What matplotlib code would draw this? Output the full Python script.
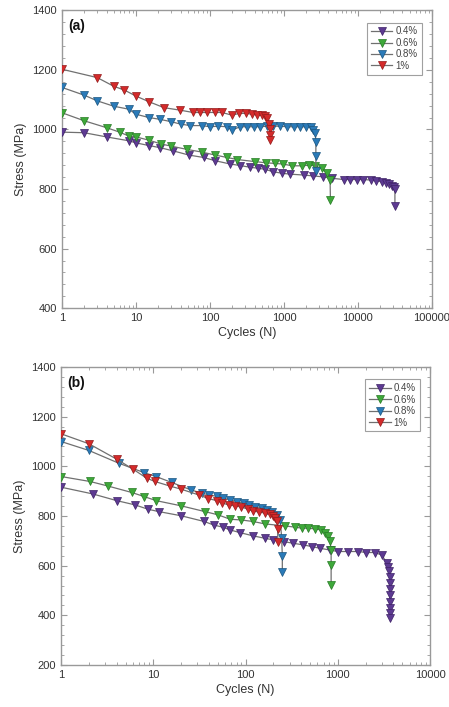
import matplotlib
matplotlib.use('Agg')
import matplotlib.pyplot as plt
from matplotlib.ticker import FixedLocator, FuncFormatter, LogLocator, MultipleLocator

plt.rcParams['font.family'] = ['Liberation Sans', 'DejaVu Sans']

# ---- panel (a) data ----
a_n_04 = [1, 2, 4, 8, 10, 15, 21, 32, 52, 82, 118, 188, 256, 350, 445, 560, 720, 940,
          1210, 1850, 2500, 3370, 4500, 6400, 7800, 9800, 11800, 15000, 17800, 21000,
          24000, 26500, 28500, 30700, 31600, 31600]
a_s_04 = [991, 989, 975, 962, 955, 946, 939, 928, 914, 906, 895, 884, 879, 873, 870, 866,
          858, 853, 850, 847, 844, 841, 836, 832, 832, 832, 832, 830, 828, 825, 821, 816,
          810, 806, 799, 743]
a_n_06 = [1, 2, 4, 6, 8, 10, 15, 22, 30, 49, 78, 118, 170, 235, 410, 575, 760, 960, 1300,
          1750, 2150, 2650, 3250, 3800, 4200, 4250]
a_s_06 = [1056, 1029, 1006, 991, 978, 975, 964, 951, 944, 933, 924, 914, 906, 899, 892,
          888, 886, 884, 878, 878, 880, 878, 869, 855, 832, 763]
a_n_08 = [1, 2, 3, 5, 8, 10, 15, 21, 30, 40, 54, 78, 100, 130, 170, 198, 256, 315, 390,
          480, 590, 720, 890, 1100, 1350, 1660, 2000, 2340, 2500, 2650, 2700, 2700, 2700]
a_s_08 = [1141, 1115, 1096, 1078, 1068, 1051, 1040, 1034, 1026, 1018, 1013, 1013, 1009,
          1011, 1009, 998, 1009, 1009, 1009, 1009, 1011, 1011, 1011, 1009, 1009, 1009,
          1009, 1007, 998, 987, 959, 911, 861]
a_n_1 = [1, 3, 5, 7, 10, 15, 24, 39, 59, 74, 91, 118, 145, 198, 250, 310, 370, 430, 505,
         560, 590, 620, 640, 640, 640]
a_s_1 = [1202, 1174, 1145, 1132, 1112, 1093, 1073, 1065, 1057, 1057, 1057, 1057, 1057,
         1048, 1054, 1054, 1051, 1049, 1047, 1044, 1040, 1018, 1002, 981, 964]

# ---- panel (b) data ----
b_n_04 = [1, 2.2, 4, 6.3, 8.8, 11.4, 20, 35.5, 45, 56.5, 68, 87, 121, 163, 200, 258, 330,
          418, 522, 640, 820, 1000, 1300, 1660, 2040, 2500, 3000, 3400, 3500, 3600, 3650,
          3650, 3650, 3650, 3650, 3650, 3650, 3650]
b_s_04 = [916, 889, 862, 845, 827, 818, 801, 778, 764, 755, 744, 733, 720, 710, 704, 697,
          690, 684, 677, 670, 663, 657, 657, 657, 653, 653, 643, 609, 596, 578, 556, 529,
          505, 482, 455, 428, 410, 388]
b_n_06 = [1, 2.06, 3.2, 5.8, 8, 10.7, 20, 36, 50, 68, 90, 120, 163, 268, 345, 405, 475,
          565, 660, 725, 790, 820, 845, 845, 845]
b_s_06 = [959, 939, 921, 895, 878, 862, 841, 818, 805, 787, 784, 778, 768, 760, 755, 751,
          751, 748, 744, 733, 721, 701, 663, 603, 522]
b_n_08 = [1, 2, 4.2, 7.9, 10.7, 15.8, 25.6, 33.5, 40.4, 48.7, 57.5, 68, 80, 95, 110, 126,
          149, 170, 192, 218, 237, 246, 250, 250]
b_s_08 = [1100, 1064, 1013, 975, 959, 935, 905, 892, 885, 879, 872, 865, 858, 852, 844,
          838, 833, 825, 818, 805, 784, 713, 637, 574]
b_n_1 = [1, 2, 4, 6, 8.5, 10.4, 15, 20, 31.6, 39.6, 48.7, 55, 65.6, 77.7, 90, 107, 121,
         141, 163, 184, 200, 209, 219, 222, 224]
b_s_1 = [1131, 1091, 1029, 989, 952, 939, 921, 908, 884, 870, 862, 854, 844, 841, 836,
         827, 819, 817, 811, 809, 800, 791, 778, 748, 697]

labels = ['0.4%', '0.6%', '0.8%', '1%']
colors = ['#5d3a92', '#3ea83a', '#2a7ab8', '#d42a2a']
edges = ['#3e2266', '#267a24', '#1b557f', '#921a1a']


def draw_panel(ax, series, tag, xmax, ymin, yticks):
    for (n, s), lab, col, ec in zip(series, labels, colors, edges):
        ax.plot(n, s, color='#707070', lw=0.9, marker='v', ms=5.6,
                mfc=col, mec=ec, mew=0.5, label=lab, zorder=3)
    ax.set_xscale('log')
    ax.set_xlim(1, xmax)
    ax.set_ylim(ymin, 1400)
    major = [10 ** k for k in range(0, 7) if 10 ** k <= xmax]
    ax.xaxis.set_major_locator(FixedLocator(major))
    ax.xaxis.set_major_formatter(FuncFormatter(lambda v, p: f'{int(round(v))}'))
    ax.xaxis.set_minor_locator(LogLocator(base=10, subs=range(2, 10)))
    ax.yaxis.set_major_locator(FixedLocator(yticks))
    ax.yaxis.set_minor_locator(MultipleLocator(40))
    ax.tick_params(which='both', direction='in', top=True, right=True, colors='#999999',
                   labelcolor='#333333', labelsize=8)
    ax.tick_params(which='major', length=4, width=0.8)
    ax.tick_params(which='minor', length=2, width=0.6)
    for sp in ax.spines.values():
        sp.set_color('#999999')
        sp.set_linewidth(1.0)
    ax.set_xlabel('Cycles (N)', fontsize=9, color='#333333', labelpad=3)
    ax.set_ylabel('Stress (MPa)', fontsize=9, color='#333333', labelpad=4)
    ax.text(0.016, 0.97, tag, transform=ax.transAxes, fontsize=10, fontweight='bold',
            va='top', ha='left', color='#111111')
    leg = ax.legend(loc='upper right', fontsize=7, frameon=True, fancybox=False,
                    handlelength=2.2, handletextpad=0.3, borderpad=0.4,
                    labelspacing=0.15, bbox_to_anchor=(0.985, 0.975))
    leg.get_frame().set_edgecolor('#888888')
    leg.get_frame().set_linewidth(0.8)
    for t in leg.get_texts():
        t.set_color('#444444')


fig = plt.figure(figsize=(4.49, 7.07), dpi=100)
ax1 = fig.add_axes([0.138, 0.564, 0.824, 0.4215])
ax2 = fig.add_axes([0.136, 0.0594, 0.822, 0.4215])

draw_panel(ax1, [(a_n_04, a_s_04), (a_n_06, a_s_06), (a_n_08, a_s_08), (a_n_1, a_s_1)],
           '(a)', 100000, 400, [400, 600, 800, 1000, 1200, 1400])
draw_panel(ax2, [(b_n_04, b_s_04), (b_n_06, b_s_06), (b_n_08, b_s_08), (b_n_1, b_s_1)],
           '(b)', 10000, 200, [200, 400, 600, 800, 1000, 1200, 1400])

fig.savefig('out.png', dpi=100)
